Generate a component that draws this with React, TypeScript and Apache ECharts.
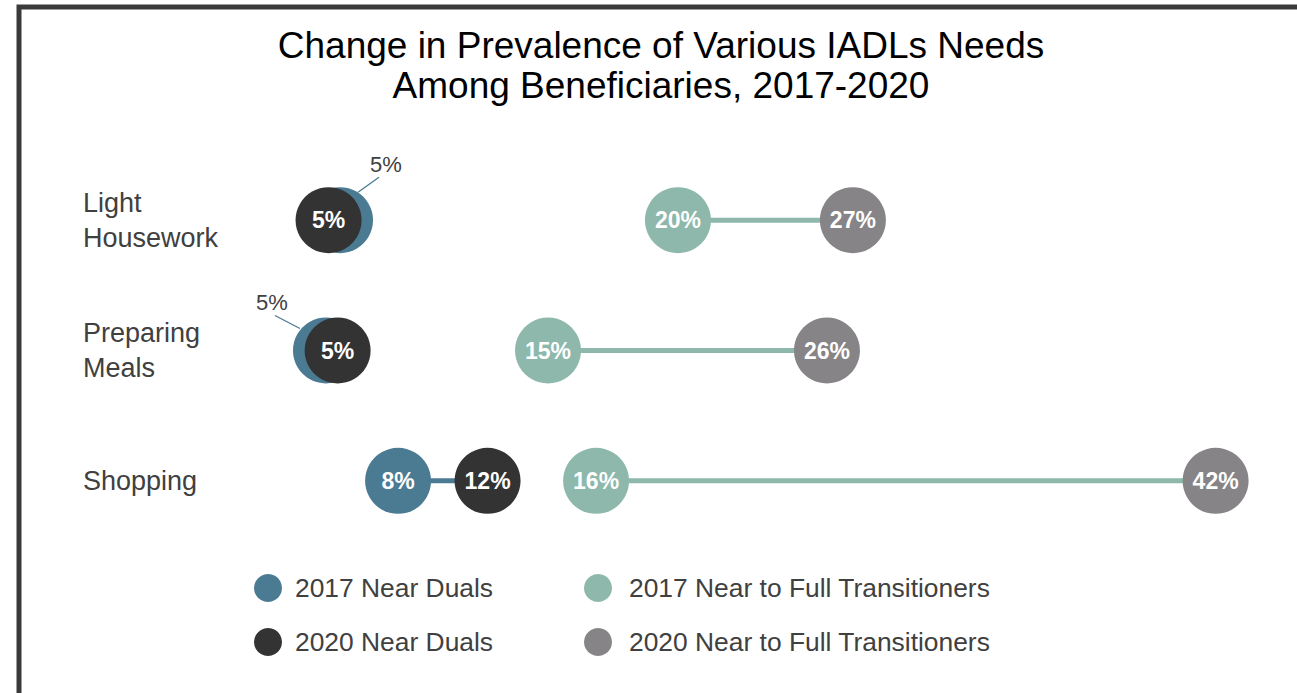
import React, { useEffect, useRef } from "react";
import * as echarts from "echarts";

// ---- Data ----
const categories = ["Light\nHousework", "Preparing\nMeals", "Shopping"];
// Positions of the points along the value axis (percent)
const nearDuals2017 = [5.21, 4.62, 7.65];
const nearDuals2020 = [4.73, 5.11, 11.41];
const transitioners2017 = [19.41, 13.95, 15.97];
const transitioners2020 = [26.76, 25.67, 42.0];
// Printed data labels
const nearDuals2017Labels = ["5%", "5%", "8%"];
const nearDuals2020Labels = ["5%", "5%", "12%"];
const transitioners2017Labels = ["20%", "15%", "16%"];
const transitioners2020Labels = ["27%", "26%", "42%"];
// Whether the 2017 Near Duals label sits inside its circle (else it is a callout)
const nearDuals2017Inside = [false, false, true];

const seriesNames = [
  "2017 Near Duals",
  "2020 Near Duals",
  "2017 Near to Full Transitioners",
  "2020 Near to Full Transitioners",
];

// ---- Styles ----
const FONT = "Liberation Sans";
const C_ND17 = "#4b7a93";
const C_ND20 = "#333333";
const C_T17 = "#8db8ab";
const C_T20 = "#868487";
const TEXT = "#404040";

// callout offsets relative to the hidden circle centre (row index -> offsets)
const calloutOffsets: Record<number, { t: number[]; l1: number[]; l2: number[] }> = {
  0: { t: [46, -56], l1: [18, -28], l2: [39, -43] },
  1: { t: [-54, -48], l1: [-26, -22], l2: [-51, -35] },
};

export default function App() {
  const ref = useRef<HTMLDivElement>(null);

  useEffect(() => {
    document.body.style.margin = "0";
    const chart = echarts.init(ref.current!, null, { renderer: "svg" });

    const innerLabel = (labels: string[]) => ({
      show: true,
      position: "inside",
      formatter: (p: any) => labels[p.dataIndex],
      color: "#ffffff",
      fontWeight: "bold",
      fontSize: 23,
      fontFamily: FONT,
    });

    const scatter = (name: string, values: number[], color: string, labels: string[], z: number, insideFlags?: boolean[]) => ({
      name,
      type: "scatter",
      symbol: "circle",
      symbolSize: 66,
      z,
      itemStyle: { color, opacity: 1 },
      label: innerLabel(labels),
      emphasis: { disabled: true },
      data: values.map((v, i) => {
        const item: any = { value: [v, i] };
        if (insideFlags && !insideFlags[i]) item.label = { show: false };
        return item;
      }),
    });

    const connector = (a: number[], b: number[], color: string) => ({
      type: "custom",
      z: 1,
      silent: true,
      encode: { x: [0, 1], y: 2 },
      data: a.map((v, i) => [v, b[i], i]),
      renderItem: (params: any, api: any) => {
        const p1 = api.coord([api.value(0), api.value(2)]);
        const p2 = api.coord([api.value(1), api.value(2)]);
        return {
          type: "line",
          shape: { x1: p1[0], y1: p1[1], x2: p2[0], y2: p2[1] },
          style: { stroke: color, lineWidth: 5 },
        };
      },
    });

    const calloutData = nearDuals2017
      .map((v, i) => [v, i])
      .filter((d) => !nearDuals2017Inside[d[1]]);

    const legendBase = {
      orient: "vertical",
      top: 569,
      itemWidth: 28,
      itemHeight: 28,
      itemGap: 26,
      icon: "circle",
      selectedMode: false,
    };

    const option: any = {
      animation: false,
      backgroundColor: "#ffffff",
      textStyle: { fontFamily: FONT },
      grid: { left: 216, right: 10, top: 155, height: 391 },
      xAxis: {
        type: "value",
        min: 0,
        max: 45,
        show: false,
      },
      yAxis: {
        type: "category",
        data: categories,
        inverse: true,
        axisLine: { show: false },
        axisTick: { show: false },
        splitLine: { show: false },
        axisLabel: {
          align: "left",
          margin: 133,
          fontSize: 27,
          lineHeight: 35,
          color: TEXT,
          fontFamily: FONT,
          padding: [14, 0, 0, 0],
        },
      },
      legend: [
        {
          ...legendBase,
          left: 249,
          data: [seriesNames[0], seriesNames[1]],
          textStyle: { fontSize: 26.4, color: TEXT, fontFamily: FONT, padding: [0, 0, 0, 8] },
        },
        {
          ...legendBase,
          left: 579,
          data: [seriesNames[2], seriesNames[3]],
          textStyle: { fontSize: 26.4, color: TEXT, fontFamily: FONT, padding: [0, 0, 0, 12] },
        },
      ],
      graphic: [
        {
          type: "rect",
          silent: true,
          shape: { x: 19, y: 7, width: 1400, height: 800 },
          style: { fill: "none", stroke: "#3a3a3a", lineWidth: 5 },
          z: 100,
        },
        {
          type: "text",
          x: 661,
          y: 45,
          style: {
            text: "Change in Prevalence of Various IADLs Needs",
            fill: "#000000",
            fontSize: 37,
            fontFamily: FONT,
            align: "center",
            verticalAlign: "middle",
          },
        },
        {
          type: "text",
          x: 661,
          y: 85,
          style: {
            text: "Among Beneficiaries, 2017-2020",
            fill: "#000000",
            fontSize: 37,
            fontFamily: FONT,
            align: "center",
            verticalAlign: "middle",
          },
        },
      ],
      series: [
        connector(nearDuals2017, nearDuals2020, C_ND17),
        connector(transitioners2017, transitioners2020, C_T17),
        scatter(seriesNames[0], nearDuals2017, C_ND17, nearDuals2017Labels, 2, nearDuals2017Inside),
        scatter(seriesNames[1], nearDuals2020, C_ND20, nearDuals2020Labels, 3),
        scatter(seriesNames[2], transitioners2017, C_T17, transitioners2017Labels, 2),
        scatter(seriesNames[3], transitioners2020, C_T20, transitioners2020Labels, 3),
        {
          type: "custom",
          z: 5,
          silent: true,
          encode: { x: 0, y: 1 },
          data: calloutData,
          renderItem: (params: any, api: any) => {
            const row = api.value(1);
            const c = api.coord([api.value(0), row]);
            const o = calloutOffsets[row] || { t: [40, -50], l1: [15, -25], l2: [35, -40] };
            return {
              type: "group",
              children: [
                {
                  type: "line",
                  shape: { x1: c[0] + o.l1[0], y1: c[1] + o.l1[1], x2: c[0] + o.l2[0], y2: c[1] + o.l2[1] },
                  style: { stroke: C_ND17, lineWidth: 1.3 },
                },
                {
                  type: "text",
                  x: c[0] + o.t[0],
                  y: c[1] + o.t[1],
                  style: {
                    text: nearDuals2017Labels[row],
                    fill: TEXT,
                    fontSize: 22,
                    fontFamily: FONT,
                    align: "center",
                    verticalAlign: "middle",
                  },
                },
              ],
            };
          },
        },
      ],
    };

    chart.setOption(option);
    return () => chart.dispose();
  }, []);

  return (
    <div
      ref={ref}
      style={{ position: "fixed", left: 0, top: 0, width: 1297, height: 693, background: "#fff" }}
    />
  );
}
